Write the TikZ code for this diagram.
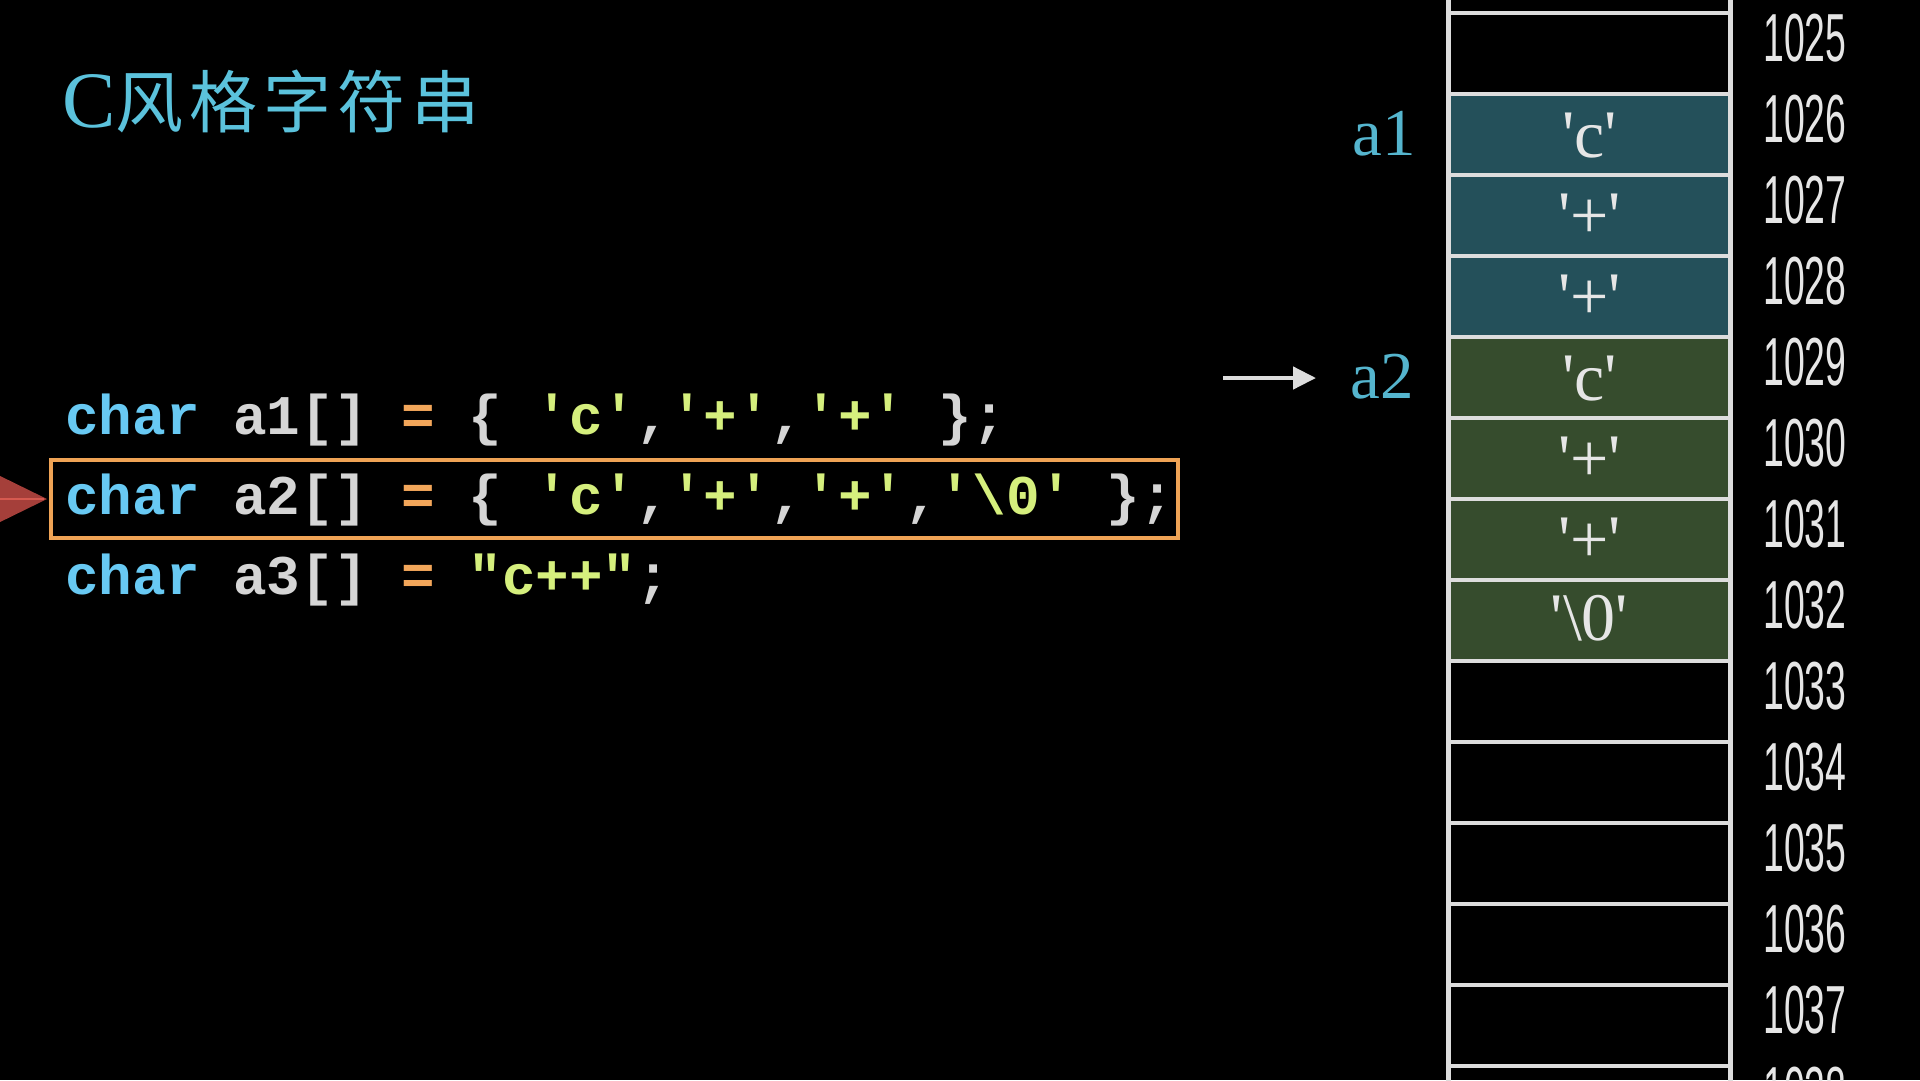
\documentclass[tikz,border=0pt]{standalone}
\usepackage{fontspec}
\usepackage{graphicx}
\usetikzlibrary{arrows.meta}
\newfontfamily\cellfont{Liberation Serif}
\newfontfamily\codefont{Liberation Mono}
\newfontfamily\cjk{Noto Sans CJK SC}
\newfontfamily\numfont{Liberation Sans}
\definecolor{titlecyan}{HTML}{5BC2DC}
\definecolor{labcyan}{HTML}{55B5CE}
\definecolor{kw}{HTML}{68C9F3}
\definecolor{gr}{HTML}{D5D5D5}
\definecolor{eq}{HTML}{F2A65A}
\definecolor{lit}{HTML}{D5EF7D}
\definecolor{boxorange}{HTML}{EFA355}
\definecolor{memline}{HTML}{DDDDDD}
\definecolor{tealcell}{HTML}{24505A}
\definecolor{greencell}{HTML}{364C2D}
\definecolor{celltext}{HTML}{E6E6E6}
\definecolor{redtri}{HTML}{A53F3A}
\definecolor{redline}{HTML}{D65A50}
\tikzset{
  memcell/.style={rectangle, draw=memline, line width=4.5pt, minimum width=282pt, minimum height=81pt, inner sep=0pt, outer sep=0pt},
  celltxt/.style={anchor=base, inner sep=0pt, text=celltext, font=\cellfont\fontsize{68pt}{70pt}\selectfont},
  addr/.style={anchor=base west, inner sep=0pt, text=celltext, font=\numfont\fontsize{68pt}{70pt}\selectfont},
  lab/.style={anchor=base east, inner sep=0pt, text=labcyan, font=\cellfont\fontsize{67pt}{70pt}\selectfont},
  code/.style={anchor=base west, inner sep=0pt, font=\codefont\bfseries\fontsize{56pt}{60pt}\selectfont},
  arr/.style={draw=memline, line width=4.5pt, -{Triangle[length=23pt,width=22pt]}}
}
\begin{document}
\begin{tikzpicture}[x=1pt,y=-1pt]
\fill[black] (0,0) rectangle (1920,1080);
\useasboundingbox (0,0) rectangle (1920,1080);
\clip (0,0) rectangle (1920,1080);

% title
\node[anchor=base west, inner sep=0pt, text=titlecyan] (title) at (62,127)
  {{\cellfont\fontsize{80pt}{84pt}\selectfont C}{\cjk\fontsize{68pt}{72pt}\selectfont 风\kern6pt 格\kern6pt 字\kern6pt 符\kern6pt 串}};

% code lines
\node[code] (line1) at (65,434) {\textcolor{kw}{char} \textcolor{gr}{a1[]} \textcolor{eq}{=} \textcolor{gr}{\{} \textcolor{lit}{'c'}\textcolor{gr}{,}\textcolor{lit}{'+'}\textcolor{gr}{,}\textcolor{lit}{'+'} \textcolor{gr}{\};}};
\node[code] (line2) at (65,514) {\textcolor{kw}{char} \textcolor{gr}{a2[]} \textcolor{eq}{=} \textcolor{gr}{\{} \textcolor{lit}{'c'}\textcolor{gr}{,}\textcolor{lit}{'+'}\textcolor{gr}{,}\textcolor{lit}{'+'}\textcolor{gr}{,}\textcolor{lit}{'\textbackslash 0'} \textcolor{gr}{\};}};
\node[code] (line3) at (65,594) {\textcolor{kw}{char} \textcolor{gr}{a3[]} \textcolor{eq}{=} \textcolor{lit}{"c++"}\textcolor{gr}{;}};

% highlight box
\node[draw=boxorange, line width=4pt, minimum width=1127pt, minimum height=78pt, inner sep=0pt] (hl) at (614.5,499) {};

% red marker
\fill[redtri] (-6,473) -- (47,499) -- (-6,525) -- cycle;
\draw[redline, line width=2pt] (-6,499) -- (44,499);

% memory column
\foreach \k in {-1,...,13} {
  \pgfmathtruncatemacro\addrv{1025+\k}
  \node[memcell] (m\addrv) at (1589.5,{53.5+81*\k}) {};
}
\foreach \a/\k in {1026/1,1027/2,1028/3} {
  \node[memcell, fill=tealcell] (f\a) at (1589.5,{53.5+81*\k}) {};
}
\foreach \a/\k in {1029/4,1030/5,1031/6,1032/7} {
  \node[memcell, fill=greencell] (f\a) at (1589.5,{53.5+81*\k}) {};
}
\node[celltxt] (t1026) at ([yshift=-23pt]f1026.center) {'c'};
\node[celltxt] (t1027) at ([yshift=-23pt]f1027.center) {'+'};
\node[celltxt] (t1028) at ([yshift=-23pt]f1028.center) {'+'};
\node[celltxt] (t1029) at ([yshift=-23pt]f1029.center) {'c'};
\node[celltxt] (t1030) at ([yshift=-23pt]f1030.center) {'+'};
\node[celltxt] (t1031) at ([yshift=-23pt]f1031.center) {'+'};
\node[celltxt] (t1032) at ([yshift=-20pt]f1032.center) {'\textbackslash 0'};

% addresses
\foreach \k in {0,...,13} {
  \pgfmathtruncatemacro\addrv{1025+\k}
  \node[addr] (n\addrv) at (1763,{13+81*\k+48}) {\scalebox{0.55}[1]{\addrv}};
}

% labels
\node[lab] (a1) at (1416,155) {a1};
\node[lab] (a2) at (1414,398) {a2};
\coordinate (arrstart) at (1223,378);
\coordinate (arrend) at (1316,378);
\draw[arr] (arrstart) -- (arrend);
\end{tikzpicture}
\end{document}
